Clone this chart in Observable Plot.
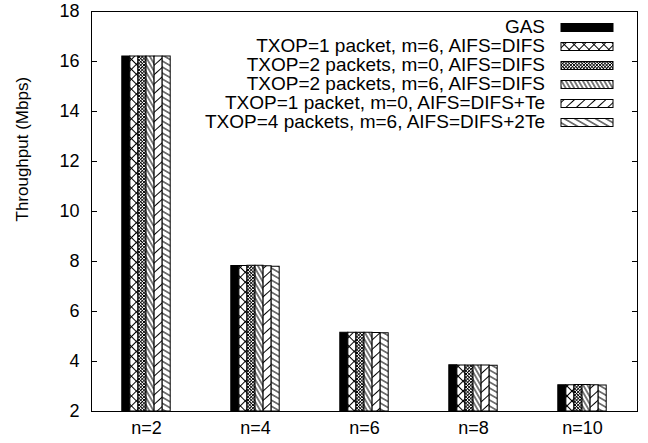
<!DOCTYPE html>
<html><head><meta charset="utf-8">
<script src="https://cdn.jsdelivr.net/npm/d3@7"></script>
<script src="https://cdn.jsdelivr.net/npm/@observablehq/plot@0.6"></script>
<style>
body{margin:0;background:#fff}
#chart{width:648px;height:443px}
</style>
</head><body><div id="chart"></div>
<script>
// ---- data ----
const groups = ["n=2", "n=4", "n=6", "n=8", "n=10"];
const seriesNames = [
  "GAS",
  "TXOP=1 packet, m=6, AIFS=DIFS",
  "TXOP=2 packets, m=0, AIFS=DIFS",
  "TXOP=2 packets, m=6, AIFS=DIFS",
  "TXOP=1 packet, m=0, AIFS=DIFS+Te",
  "TXOP=4 packets, m=6, AIFS=DIFS+2Te"
];
const gas        = [16.2, 7.82, 5.15, 3.85, 3.05];
const txop1m6    = [16.2, 7.82, 5.15, 3.84, 3.05];
const txop2m0    = [16.2, 7.83, 5.15, 3.84, 3.06];
const txop2m6    = [16.2, 7.83, 5.15, 3.84, 3.06];
const txop1m0Te  = [16.2, 7.81, 5.14, 3.84, 3.05];
const txop4m6Te2 = [16.2, 7.79, 5.13, 3.83, 3.04];
const yTicks = [2, 4, 6, 8, 10, 12, 14, 16, 18];
const yTitle = "Throughput (Mbps)";

const seriesValues = [gas, txop1m6, txop2m0, txop2m6, txop1m0Te, txop4m6Te2];
const fills = ["black", "url(#pBigX)", "url(#pSmallX)", "url(#pSteepBack)", "url(#pFwd)", "url(#pBack)"];

// ---- layout ----
const W = 648, H = 443;
const mL = 91, mR = 11, mT = 11, mB = 32;
const pad = 0.926;               // band padding so each group is ~48px wide
const step = (W - mL - mR) / groups.length;
const barW = step * (1 - pad);

const marks = [];
seriesNames.forEach((s, j) => {
  const rows = groups.map((g, i) => ({group: g, series: s, value: seriesValues[j][i]}));
  marks.push(Plot.barY(rows, {
    x: "group", y1: 2, y2: "value",
    fill: fills[j], stroke: "black", strokeWidth: 1,
    dx: (j - 2.5) * barW
  }));
});

const plot = Plot.plot({
  width: W, height: H,
  marginLeft: mL, marginRight: mR, marginTop: mT, marginBottom: mB,
  style: "font-family: 'Liberation Sans', Arial, sans-serif; font-size: 18px; background: white; overflow: visible;",
  x: {domain: groups, paddingInner: pad, paddingOuter: pad / 2},
  y: {domain: [2, 18]},
  marks: [
    ...marks,
    Plot.axisY(yTicks, {tickSize: -6, tickPadding: 18, fontSize: 18, label: null}),
    Plot.axisY(yTicks, {anchor: "right", tickSize: -6, tickFormat: () => "", label: null}),
    Plot.axisX({tickSize: 0, tickPadding: 10, fontSize: 18, label: null}),
    Plot.text([yTitle], {frameAnchor: "left", rotate: -90, dx: -69, dy: 10, fontSize: 17, fill: "black"}),
    Plot.frame({stroke: "black", strokeWidth: 1})
  ]
});
document.getElementById("chart").appendChild(plot);

// ---- patterns ----
const svg = d3.select(plot);
const defs = svg.insert("defs", ":first-child");
function linePattern(id, spacing, angle, sw) {
  const p = defs.append("pattern").attr("id", id)
    .attr("patternUnits", "userSpaceOnUse")
    .attr("width", spacing).attr("height", spacing)
    .attr("patternTransform", `rotate(${angle})`);
  p.append("rect").attr("width", spacing).attr("height", spacing).attr("fill", "white");
  p.append("line").attr("x1", spacing / 2).attr("y1", 0).attr("x2", spacing / 2).attr("y2", spacing)
    .attr("stroke", "black").attr("stroke-width", sw);
}
function crossPattern(id, spacing, sw) {
  const p = defs.append("pattern").attr("id", id)
    .attr("patternUnits", "userSpaceOnUse")
    .attr("width", spacing).attr("height", spacing)
    .attr("patternTransform", "rotate(45)");
  p.append("rect").attr("width", spacing).attr("height", spacing).attr("fill", "white");
  p.append("line").attr("x1", spacing / 2).attr("y1", 0).attr("x2", spacing / 2).attr("y2", spacing)
    .attr("stroke", "black").attr("stroke-width", sw);
  p.append("line").attr("x1", 0).attr("y1", spacing / 2).attr("x2", spacing).attr("y2", spacing / 2)
    .attr("stroke", "black").attr("stroke-width", sw);
}
crossPattern("pBigX", 7, 1);
crossPattern("pSmallX", 2.3, 0.8);
linePattern("pSteepBack", 3.7, -30, 1);
linePattern("pFwd", 7, 48, 1);
linePattern("pBack", 5.2, -60, 1);

// ---- legend (inside the frame, top right) ----
const leg = svg.append("g").attr("font-family", "'Liberation Sans', Arial, sans-serif").attr("font-size", 19);
seriesNames.forEach((s, j) => {
  const cy = 26 + j * 19;
  leg.append("text").attr("x", 545).attr("y", cy).attr("dy", "0.35em")
    .attr("text-anchor", "end").attr("fill", "black").text(s);
  leg.append("rect").attr("x", 561).attr("y", cy - 2.5).attr("width", 52).attr("height", 8)
    .attr("fill", fills[j]).attr("stroke", "black").attr("stroke-width", 1);
});
</script>
</body></html>
